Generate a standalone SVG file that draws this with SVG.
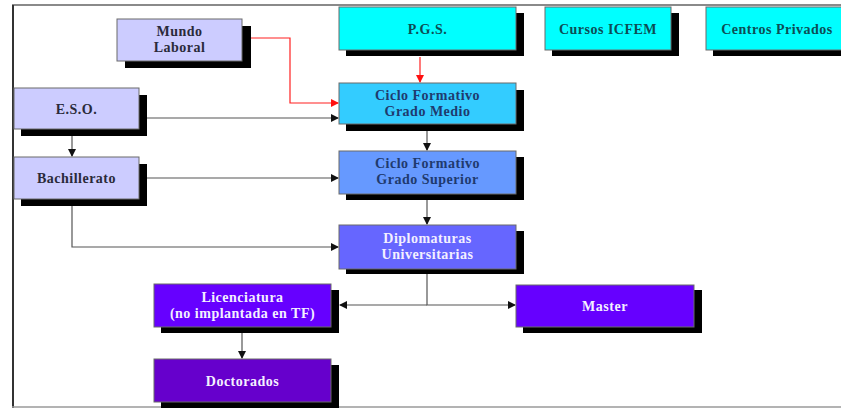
<svg xmlns="http://www.w3.org/2000/svg" width="841" height="408" viewBox="0 0 841 408">
<defs>
<style>
.sh{fill:#000}
.bx{stroke:#6a6a6a;stroke-width:1}
.t{font-family:"Liberation Serif","Times New Roman",serif;font-size:14px;letter-spacing:0.5px;font-weight:bold;text-anchor:middle}
.dk{fill:#2a2a3a}
.nv{fill:#1f3a6e}
.tl{fill:#0d4d55}
.wh{fill:#f4f0ff}
.ln{fill:none;stroke:#555;stroke-width:1.2}
.rd{fill:none;stroke:#ff2020;stroke-width:1.2}
</style>
<marker id="ab" markerWidth="8" markerHeight="8" refX="7" refY="4" orient="auto" markerUnits="userSpaceOnUse"><path d="M0,0 L8,4 L0,8 Z" fill="#111"/></marker>
<marker id="ar" markerWidth="8" markerHeight="8" refX="7" refY="4" orient="auto" markerUnits="userSpaceOnUse"><path d="M0,0 L8,4 L0,8 Z" fill="#ff1010"/></marker>
</defs>
<rect x="0" y="0" width="841" height="408" fill="#fff"/>
<line x1="12" y1="5" x2="841" y2="5" stroke="#8a8a8a" stroke-width="2"/>
<line x1="13" y1="5" x2="13" y2="408" stroke="#333" stroke-width="2"/>
<line x1="12" y1="407" x2="841" y2="407" stroke="#9a9a9a" stroke-width="1.5"/>

<g id="connectors">
<polyline class="rd" points="242,38 290,38 290,103 338,103" marker-end="url(#ar)"/>
<line class="rd" x1="420" y1="57" x2="420" y2="82" marker-end="url(#ar)"/>
<line class="ln" x1="147" y1="118" x2="338" y2="118" marker-end="url(#ab)"/>
<line class="ln" x1="72" y1="136" x2="72" y2="156" marker-end="url(#ab)"/>
<line class="ln" x1="147" y1="178" x2="338" y2="178" marker-end="url(#ab)"/>
<polyline class="ln" points="72,206 72,247 338,247" marker-end="url(#ab)"/>
<line class="ln" x1="427" y1="131" x2="427" y2="150" marker-end="url(#ab)"/>
<line class="ln" x1="427" y1="200" x2="427" y2="224" marker-end="url(#ab)"/>
<polyline class="ln" points="427,274 427,305 515,305" marker-end="url(#ab)"/>
<line class="ln" x1="427" y1="305" x2="340" y2="305" marker-end="url(#ab)"/>
<line class="ln" x1="242" y1="333" x2="242" y2="358" marker-end="url(#ab)"/>
</g>

<g id="mundo">
<rect class="sh" x="125" y="26" width="126" height="42"/>
<rect class="bx" x="117" y="19" width="125" height="42" fill="#ccccff"/>
<text class="t dk" x="179.5" y="36">Mundo</text>
<text class="t dk" x="179.5" y="52">Laboral</text>
</g>
<g id="eso">
<rect class="sh" x="21" y="95" width="126" height="41"/>
<rect class="bx" x="14" y="88" width="125" height="41" fill="#ccccff"/>
<text class="t dk" x="76.5" y="113.5">E.S.O.</text>
</g>
<g id="bachillerato">
<rect class="sh" x="21" y="164" width="126" height="42"/>
<rect class="bx" x="14" y="157" width="125" height="42" fill="#ccccff"/>
<text class="t dk" x="76.5" y="183">Bachillerato</text>
</g>
<g id="pgs">
<rect class="sh" x="346" y="13" width="178" height="43"/>
<rect class="bx" x="339" y="7" width="177" height="43" fill="#00ffff"/>
<text class="t tl" x="427.5" y="33.5">P.G.S.</text>
</g>
<g id="icfem">
<rect class="sh" x="552" y="13" width="127" height="43"/>
<rect class="bx" x="545" y="7" width="126" height="43" fill="#00ffff"/>
<text class="t tl" x="608" y="33.5">Cursos ICFEM</text>
</g>
<g id="privados">
<rect class="sh" x="713" y="13" width="140" height="43"/>
<rect class="bx" x="706" y="7" width="150" height="43" fill="#00ffff"/>
<text class="t tl" x="777" y="33.5">Centros Privados</text>
</g>
<g id="medio">
<rect class="sh" x="346" y="90" width="178" height="41"/>
<rect class="bx" x="339" y="83" width="177" height="41" fill="#33ccff"/>
<text class="t nv" x="427.5" y="100">Ciclo Formativo</text>
<text class="t nv" x="427.5" y="116">Grado Medio</text>
</g>
<g id="superior">
<rect class="sh" x="346" y="157" width="178" height="43"/>
<rect class="bx" x="339" y="151" width="177" height="43" fill="#6699ff"/>
<text class="t nv" x="427.5" y="168">Ciclo Formativo</text>
<text class="t nv" x="427.5" y="184">Grado Superior</text>
</g>
<g id="diplomaturas">
<rect class="sh" x="346" y="231" width="178" height="43"/>
<rect class="bx" x="339" y="225" width="177" height="44" fill="#6666ff"/>
<text class="t wh" x="427.5" y="243">Diplomaturas</text>
<text class="t wh" x="427.5" y="259">Universitarias</text>
</g>
<g id="licenciatura">
<rect class="sh" x="161" y="290" width="178" height="43"/>
<rect class="bx" x="154" y="284" width="177" height="43" fill="#6600ff"/>
<text class="t wh" x="242.5" y="302">Licenciatura</text>
<text class="t wh" x="242.5" y="318">(no implantada en TF)</text>
</g>
<g id="master">
<rect class="sh" x="523" y="290" width="179" height="43"/>
<rect class="bx" x="516" y="285" width="178" height="42" fill="#6600ff"/>
<text class="t wh" x="605" y="311">Master</text>
</g>
<g id="doctorados">
<rect class="sh" x="161" y="365" width="178" height="43"/>
<rect class="bx" x="154" y="359" width="177" height="43" fill="#6600cc"/>
<text class="t wh" x="242.5" y="385.5">Doctorados</text>
</g>
</svg>
